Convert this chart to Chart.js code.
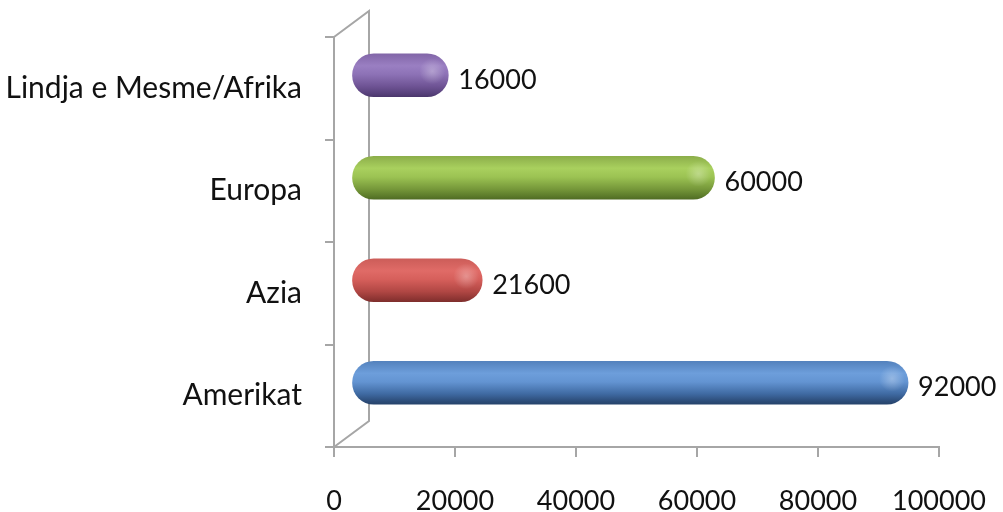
<!DOCTYPE html>
<html>
<head>
<meta charset="utf-8">
<script src="https://cdn.jsdelivr.net/npm/chart.js@4"></script>
<style>
  html, body { margin: 0; padding: 0; background: #fff; }
  #wrap { width: 1003px; height: 512px; }
</style>
</head>
<body>
<div id="wrap"><canvas id="c" width="1003" height="512"></canvas></div>
<script>
// Regions and values (bottom to top on the chart)
const categories = ['Amerikat', 'Azia', 'Europa', 'Lindja e Mesme/Afrika'];
const values = [92000, 21600, 60000, 16000];
const xTicks = [0, 20000, 40000, 60000, 80000, 100000];

// Vertical colour ramps for the cylinder shading, one per region
const ramps = [
  ['#5482bd', '#6d9edb', '#6394d2', '#3f6aa2', '#2c4c78', '#26436b'],
  ['#cc5d59', '#e06b67', '#d65f5b', '#b14744', '#8e3533', '#7f2f2d'],
  ['#8cae4a', '#a9d05e', '#9cc353', '#76983a', '#5b7a2a', '#506c24'],
  ['#8266a8', '#9a7fc2', '#8d72b6', '#6e5394', '#56407a', '#4b376c']
];
const rampStops = [0, 0.28, 0.48, 0.76, 0.93, 1];

// 3D depth of the plot box; bars sit half way into it
const DEPTH_X = 35, DEPTH_Y = 26;
const BAR_DX = DEPTH_X / 2, BAR_DY = -DEPTH_Y / 2;
const AXIS_COLOR = '#a6a6a6';
const FONT = 'Lato, "Open Sans", sans-serif';
const LABEL_SIZE = 30;   // category names
const NUMBER_SIZE = 27;  // axis numbers and bar values

function cylinderFill(ctx) {
  const chart = ctx.chart;
  const y = chart.scales && chart.scales.y;
  if (!y || !chart.chartArea || ctx.dataIndex === undefined) return ramps[0][1];
  const cy = y.getPixelForValue(ctx.dataIndex);
  const h = 43;
  const g = chart.ctx.createLinearGradient(0, cy - h / 2, 0, cy + h / 2);
  const r = ramps[ctx.dataIndex];
  rampStops.forEach((s, i) => g.addColorStop(s, r[i]));
  return g;
}

// Slanted back wall of the 3D plot box
const backWall = {
  id: 'backWall',
  beforeDatasetsDraw(chart) {
    const { ctx, chartArea: a } = chart;
    ctx.save();
    ctx.strokeStyle = AXIS_COLOR;
    ctx.lineWidth = 2;
    ctx.beginPath();
    ctx.moveTo(a.left, a.bottom);
    ctx.lineTo(a.left + DEPTH_X, a.bottom - DEPTH_Y);
    ctx.lineTo(a.left + DEPTH_X, a.top - DEPTH_Y);
    ctx.lineTo(a.left, a.top);
    ctx.stroke();
    ctx.restore();
    // bars are drawn pushed back into the box
    ctx.save();
    ctx.translate(BAR_DX, BAR_DY);
  },
  afterDatasetsDraw(chart) {
    const ctx = chart.ctx;
    // soft glint near the rounded end of each bar
    chart.getDatasetMeta(0).data.forEach(bar => {
      const ex = bar.x - 16, ey = bar.y - 4;
      const g = ctx.createRadialGradient(ex, ey, 0, ex, ey, 13);
      g.addColorStop(0, 'rgba(255,255,255,0.3)');
      g.addColorStop(1, 'rgba(255,255,255,0)');
      ctx.fillStyle = g;
      ctx.beginPath();
      ctx.arc(ex, ey, 13, 0, Math.PI * 2);
      ctx.fill();
    });
    ctx.restore();
    // value labels after each bar
    ctx.save();
    ctx.fillStyle = '#111';
    ctx.font = NUMBER_SIZE + 'px ' + FONT;
    ctx.textAlign = 'left';
    ctx.textBaseline = 'middle';
    chart.getDatasetMeta(0).data.forEach((bar, i) => {
      ctx.fillText(String(values[i]), bar.x + BAR_DX + 10, bar.y + BAR_DY + 5);
    });
    ctx.restore();
  }
};

new Chart(document.getElementById('c'), {
  type: 'bar',
  data: {
    labels: categories,
    datasets: [{
      data: values,
      backgroundColor: cylinderFill,
      borderWidth: 0,
      borderSkipped: false,
      borderRadius: 22,
      barThickness: 43
    }]
  },
  plugins: [backWall],
  options: {
    indexAxis: 'y',
    responsive: false,
    animation: false,
    events: [],
    layout: { padding: { top: 37, right: 64, left: 0, bottom: 0 } },
    plugins: { legend: { display: false }, tooltip: { enabled: false } },
    scales: {
      x: {
        min: 0,
        max: 100000,
        afterBuildTicks(scale) { scale.ticks = xTicks.map(v => ({ value: v })); },
        afterFit(scale) {
          scale.height = 65;
          scale.paddingLeft = 0;
          scale.paddingRight = 0;
        },
        grid: { drawOnChartArea: false, drawTicks: true, tickLength: 10, color: AXIS_COLOR, lineWidth: 2 },
        border: { display: true, color: AXIS_COLOR, width: 2 },
        ticks: {
          color: '#111', font: { family: FONT, size: NUMBER_SIZE }, padding: 28, maxRotation: 0,
          callback: v => String(v)
        }
      },
      y: {
        reverse: true,
        afterFit(scale) {
          scale.width = 334;
          scale.paddingTop = 0;
          scale.paddingBottom = 0;
        },
        grid: { drawOnChartArea: false, drawTicks: true, tickLength: 9, color: AXIS_COLOR, lineWidth: 2, offset: true },
        border: { display: true, color: AXIS_COLOR, width: 2 },
        ticks: { color: '#111', font: { family: FONT, size: LABEL_SIZE }, padding: 23 }
      }
    }
  }
});
</script>
</body>
</html>
